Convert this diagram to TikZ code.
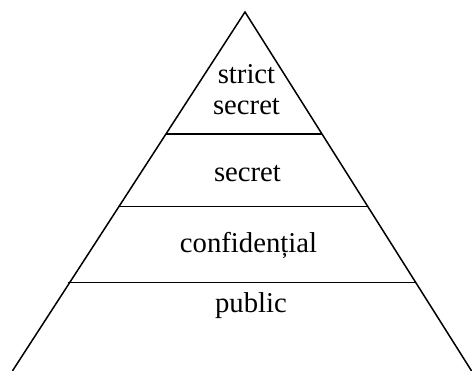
\documentclass[tikz,border=0pt]{standalone}
\usepackage{fontspec}
\setmainfont{Liberation Serif}
\usetikzlibrary{calc}
\begin{document}
\begin{tikzpicture}[x=1pt,y=1pt,
  edge/.style={line width=1.5pt, line cap=butt},
  level/.style={anchor=base, inner sep=0pt, font=\fontsize{28.7}{32}\selectfont, align=center}]
  \useasboundingbox (0,0) rectangle (472,371);
  % pyramid outline (open at the bottom)
  \coordinate (apex) at (245,359);
  \coordinate (bl) at (12.4,0);
  \coordinate (br) at (471.6,0);
  \draw[edge, line join=miter] (bl) -- (apex) -- (br);
  % level dividers on the two sides
  \coordinate (l1) at ($(apex)!0.3398!(bl)$);
  \coordinate (r1) at ($(apex)!0.3398!(br)$);
  \coordinate (l2) at ($(apex)!0.5423!(bl)$);
  \coordinate (r2) at ($(apex)!0.5423!(br)$);
  \coordinate (l3) at ($(apex)!0.754!(bl)+(-2,0)$);
  \coordinate (r3) at ($(apex)!0.754!(br)$);
  \draw[edge] (l1) -- (r1);
  \draw[edge] (l2) -- (r2);
  \draw[edge] (l3) -- (r3);
  % level labels
  \node[level] (strict) at (246.5,287.7) {strict};
  \node[level] (secret1) at (246.5,256) {secret};
  \node[level] (secret2) at (247.5,189.3) {secret};
  \node[level] (conf) at (248.5,118) {confidențial};
  \node[level] (public) at (251,58) {public};
\end{tikzpicture}
\end{document}
